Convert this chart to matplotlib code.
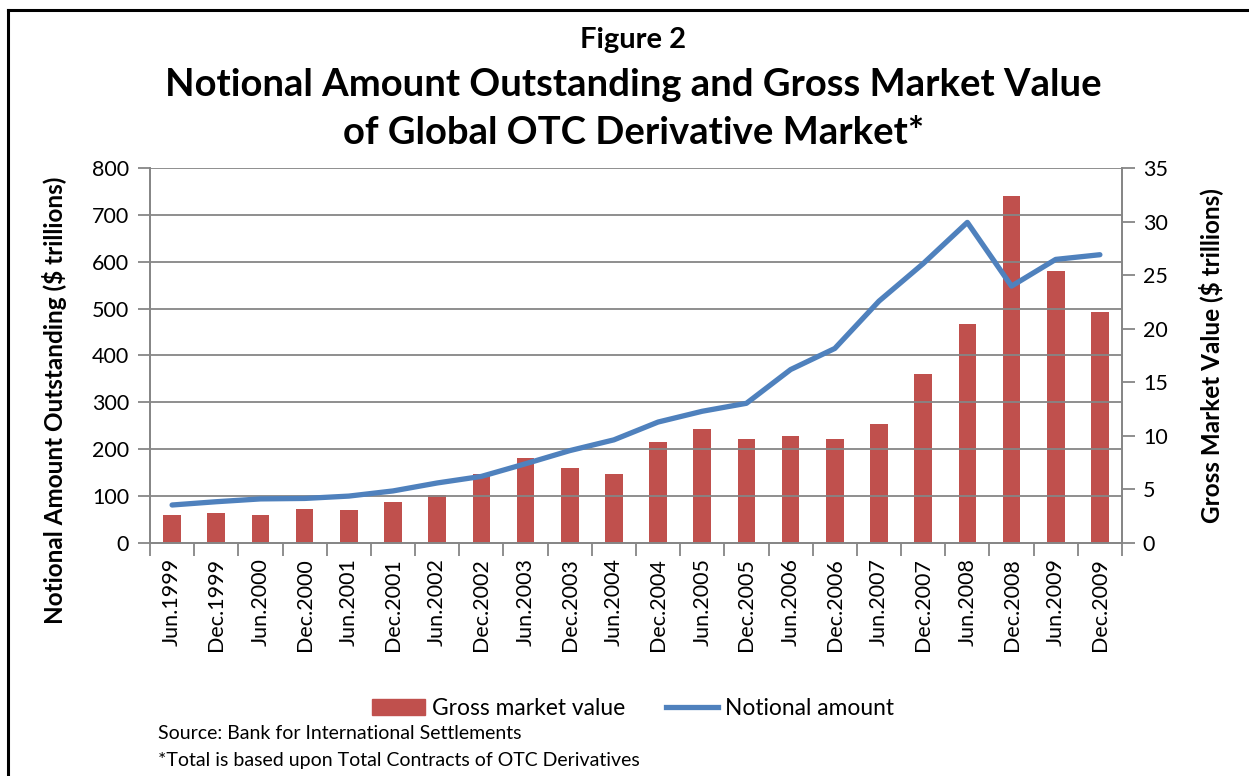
import matplotlib.pyplot as plt
from matplotlib.lines import Line2D
from matplotlib.patches import Patch
import numpy as np

plt.rcParams['font.family'] = ['Lato', 'DejaVu Sans']

# Dates (semi-annual) and values from BIS
periods = ['Jun.1999', 'Dec.1999', 'Jun.2000', 'Dec.2000', 'Jun.2001', 'Dec.2001',
           'Jun.2002', 'Dec.2002', 'Jun.2003', 'Dec.2003', 'Jun.2004', 'Dec.2004',
           'Jun.2005', 'Dec.2005', 'Jun.2006', 'Dec.2006', 'Jun.2007', 'Dec.2007',
           'Jun.2008', 'Dec.2008', 'Jun.2009', 'Dec.2009']
gross_value = [2.6, 2.8, 2.6, 3.2, 3.1, 3.8, 4.5, 6.4, 7.9, 7.0, 6.4, 9.4,
               10.6, 9.7, 10.0, 9.7, 11.1, 15.8, 20.4, 32.4, 25.4, 21.6]
notional = [81, 88, 94, 95, 100, 111, 128, 142, 169, 197, 220, 258,
            281, 298, 370, 415, 516, 596, 684, 548, 605, 615]

red = '#C0504D'
blue = '#4F81BD'
gray = '#868686'

fig = plt.figure(figsize=(12.49, 7.76), dpi=100)
ax = fig.add_axes([0.1201, 0.3003, 0.7782, 0.4832])
ax2 = ax.twinx()

x = np.arange(len(periods))

# bars on right axis, line on left axis (drawn on top)
ax2.bar(x, gross_value, width=0.4, color=red, zorder=2)
ax.set_zorder(ax2.get_zorder() + 1)
ax.patch.set_visible(False)
ax.plot(x, notional, color=blue, lw=3.8, solid_capstyle='round', zorder=3)

ax.set_xlim(-0.5, len(periods) - 0.5)
ax.set_ylim(0, 800)
ax.set_yticks(np.arange(0, 801, 100))
ax2.set_ylim(0, 35)
ax2.set_yticks(np.arange(0, 36, 5))

for v in np.arange(100, 801, 100):
    ax.axhline(v, color=gray, lw=1.3, zorder=1)

ax.set_xticks(x)
ax.set_xticklabels(periods, rotation=90, fontsize=15.5)
ax.set_xticks(np.arange(-0.5, len(periods), 1), minor=True)
ax.tick_params(axis='x', which='major', length=0, pad=11)
ax.tick_params(axis='x', which='minor', length=9, color=gray, width=1.3)
ax.tick_params(axis='y', labelsize=15.5, length=9, color=gray, width=1.3, pad=6)
ax2.tick_params(axis='y', labelsize=15.5, length=9, color=gray, width=1.3, pad=6)
ax2.tick_params(axis='x', length=0)

for a in (ax, ax2):
    for side in ('left', 'right', 'bottom'):
        a.spines[side].set_color(gray)
        a.spines[side].set_linewidth(1.3)
    a.spines['top'].set_visible(False)

ax.set_ylabel('Notional Amount Outstanding ($ trillions)', fontsize=17.5,
              fontweight='bold')
ax.yaxis.set_label_coords(-0.085, 0.38)
ax2.set_ylabel('Gross Market Value ($ trillions)', fontsize=17.5,
               fontweight='bold', labelpad=22)

fig.text(0.507, 0.948, 'Figure 2', ha='center', va='center', fontsize=21, fontweight='bold')
fig.text(0.507, 0.890, 'Notional Amount Outstanding and Gross Market Value',
         ha='center', va='center', fontsize=27.5, fontweight='bold')
fig.text(0.507, 0.828, 'of Global OTC Derivative Market*',
         ha='center', va='center', fontsize=27.5, fontweight='bold')

handles = [Patch(color=red, label='Gross market value'),
           Line2D([], [], color=blue, lw=3.8, label='Notional amount')]
fig.legend(handles=handles, loc='center', bbox_to_anchor=(0.507, 0.087), ncol=2,
           frameon=False, fontsize=16.4, handlelength=2.3, handletextpad=0.3,
           columnspacing=1.8)

fig.text(0.1265, 0.055, 'Source: Bank for International Settlements',
         ha='left', va='center', fontsize=14)
fig.text(0.1265, 0.020, '*Total is based upon Total Contracts of OTC Derivatives',
         ha='left', va='center', fontsize=14)

# outer frame (top and left edges visible)
fig.add_artist(Line2D([0.0065, 0.0065], [0, 0.987], color='black', lw=2.2,
                      transform=fig.transFigure))
fig.add_artist(Line2D([0.0065, 1.0], [0.987, 0.987], color='black', lw=2.2,
                      transform=fig.transFigure))

fig.savefig('out.png', dpi=100)
